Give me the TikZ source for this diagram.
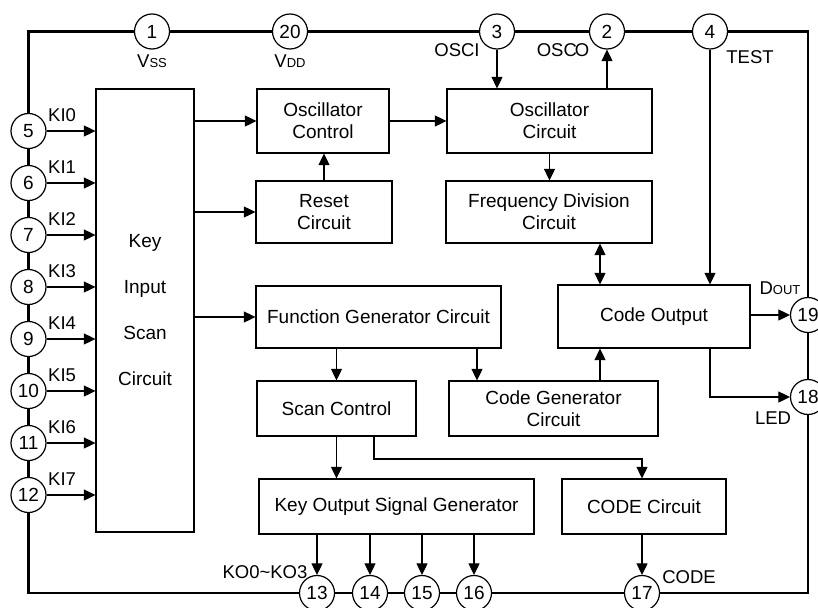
\documentclass[tikz,border=0pt]{standalone}
\usepackage{fontspec}
\setmainfont{Liberation Sans}
\usetikzlibrary{arrows.meta}
\tikzset{
  box/.style={draw, line width=1.2pt, fill=white, inner sep=0pt, align=center, font={\fontsize{19}{22}\selectfont}},
  pin/.style={circle, draw, line width=1.2pt, fill=white, minimum size=35pt, inner sep=0pt, font={\fontsize{19}{22}\selectfont}},
  arr/.style={line width=1.1pt, -{Triangle[length=11.5pt,width=11pt]}},
  arrb/.style={line width=1.1pt, {Triangle[length=11.5pt,width=11pt]}-{Triangle[length=11.5pt,width=11pt]}},
  frame/.style={line width=2.5pt},
  lbl/.style={inner sep=0pt, font={\fontsize{18.5}{20}\selectfont}}
}
\newcommand{\smc}[1]{{\fontsize{13}{15}\selectfont #1}}
\begin{document}
\begin{tikzpicture}[x=1pt,y=-1pt]
\useasboundingbox (0,0) rectangle (818,607);
\clip (0,0) rectangle (818,607);
% frame
\draw[frame] (28.5,31.5) rectangle (808,593);
% boxes
\node[box, minimum width=98pt, minimum height=443pt, font={\fontsize{19}{46}\selectfont}] (KIS) at (145,310.5) {Key\\Input\\Scan\\Circuit};
\node[box, minimum width=132pt, minimum height=64pt] (OSCCTL) at (323,121) {Oscillator\\Control};
\node[box, minimum width=136pt, minimum height=62pt] (RESET) at (324,212) {Reset\\Circuit};
\node[box, minimum width=205pt, minimum height=64pt] (OSCC) at (549.5,121) {Oscillator\\Circuit};
\node[box, minimum width=206pt, minimum height=62pt] (FDIV) at (549,212) {Frequency Division\\Circuit};
\node[box, minimum width=192pt, minimum height=63pt] (CODEOUT) at (654,316.5) {Code Output};
\node[box, minimum width=245pt, minimum height=62pt] (FGEN) at (378.5,317) {Function Generator Circuit};
\node[box, minimum width=209pt, minimum height=55pt] (CGEN) at (553.5,408.5) {Code Generator\\Circuit};
\node[box, minimum width=159pt, minimum height=55pt] (SCAN) at (336.5,408.5) {Scan Control};
\node[box, minimum width=275pt, minimum height=55pt] (KOSG) at (396.5,506.5) {Key Output Signal Generator};
\node[box, minimum width=164pt, minimum height=55pt] (CODEC) at (644,506.5) {CODE Circuit};
% pins
\node[pin] (p1) at (152,31.5) {1};
\node[pin] (p20) at (290,31.5) {20};
\node[pin] (p3) at (497,31.5) {3};
\node[pin] (p2) at (607,31.5) {2};
\node[pin] (p4) at (710,31.5) {4};
\node[pin] (p5) at (28.5,131) {5};
\node[pin] (p6) at (28.5,183) {6};
\node[pin] (p7) at (28.5,235) {7};
\node[pin] (p8) at (28.5,287) {8};
\node[pin] (p9) at (28.5,339) {9};
\node[pin] (p10) at (28.5,391) {10};
\node[pin] (p11) at (28.5,443) {11};
\node[pin] (p12) at (28.5,495) {12};
\node[pin] (p13) at (317,593) {13};
\node[pin] (p14) at (370,593) {14};
\node[pin] (p15) at (422,593) {15};
\node[pin] (p16) at (474,593) {16};
\node[pin] (p17) at (642,593) {17};
\node[pin] (p19) at (808,315) {19};
\node[pin] (p18) at (808,397) {18};
% helper coordinates
\coordinate (xa) at (600,0);
\coordinate (xc) at (477,0);
\coordinate (bend) at (374,459);
% key inputs
\foreach \p in {p5,p6,p7,p8,p9,p10,p11,p12}
  \draw[arr] (\p) -- (\p -| KIS.west);
% connectors
\draw[arr] (KIS.east |- OSCCTL) -- (OSCCTL.west);
\draw[arr] (KIS.east |- RESET) -- (RESET.west);
\draw[arr] (KIS.east |- FGEN) -- (FGEN.west);
\draw[arr] (OSCCTL.east) -- (OSCCTL.east -| OSCC.west);
\draw[arr] (RESET.north) -- (RESET.north |- OSCCTL.south);
\draw[arr] (p3) -- (p3 |- OSCC.north);
\draw[arr] (p2 |- OSCC.north) -- (p2);
\draw[arr] (OSCC.south) -- (OSCC.south |- FDIV.north);
\draw[arrb] (FDIV.south -| xa) -- (CODEOUT.north -| xa);
\draw[arr] (p4) -- (p4 |- CODEOUT.north);
\draw[arr] (CGEN.north -| xa) -- (CODEOUT.south -| xa);
\draw[arr] (CODEOUT.east |- p19) -- (p19);
\draw[arr] (CODEOUT.south -| p4) |- (p18);
\draw[arr] (SCAN.north |- FGEN.south) -- (SCAN.north);
\draw[arr] (FGEN.south -| xc) -- (CGEN.north -| xc);
\draw[arr] (SCAN.south) -- (SCAN.south |- KOSG.north);
\draw[arr] (SCAN.south -| bend) -- (bend) -| (CODEC.north -| p17);
\foreach \p in {p13,p14,p15,p16}
  \draw[arr] (KOSG.south -| \p) -- (\p);
\draw[arr] (CODEC.south -| p17) -- (p17);
% labels
\node[lbl, anchor=west] (lk0) at (48,115) {KI0};
\node[lbl, anchor=west] (lk1) at (48,167) {KI1};
\node[lbl, anchor=west] (lk2) at (48,219) {KI2};
\node[lbl, anchor=west] (lk3) at (48,271) {KI3};
\node[lbl, anchor=west] (lk4) at (48,323) {KI4};
\node[lbl, anchor=west] (lk5) at (48,375) {KI5};
\node[lbl, anchor=west] (lk6) at (48,427) {KI6};
\node[lbl, anchor=west] (lk7) at (48,479) {KI7};
\node[lbl] (lvss) at (152,61) {V\smc{SS}};
\node[lbl] (lvdd) at (290,61) {V\smc{DD}};
\node[lbl] (losci) at (457,50) {OSCI};
\node[lbl] (losco) at (563,50) {OSC\kern-2pt O};
\node[lbl] (ltest) at (750,57) {TEST};
\node[lbl] (ldout) at (780,288) {D\smc{OUT}};
\node[lbl] (lled) at (773,418) {LED};
\node[lbl] (lcode) at (689,577) {CODE};
\node[lbl] (lko) at (265,572) {KO0\textasciitilde KO3};
\end{tikzpicture}
\end{document}
